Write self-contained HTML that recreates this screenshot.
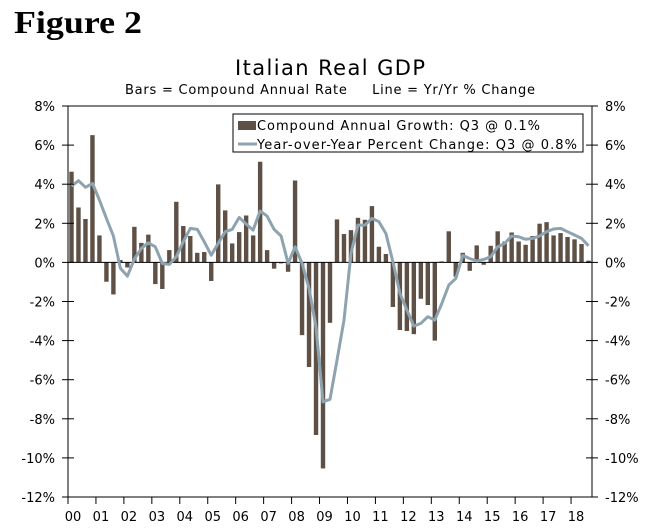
<!DOCTYPE html>
<html><head><meta charset="utf-8"><style>
html,body{margin:0;padding:0;background:#fff;width:653px;height:531px;overflow:hidden}
svg{display:block;font-family:"DejaVu Sans","Liberation Sans",sans-serif}
</style></head><body>
<svg id="chart" width="653" height="531" viewBox="0 0 653 531">
<text x="14" y="33" font-family="Liberation Serif,serif" font-weight="bold" font-size="32" textLength="128" lengthAdjust="spacingAndGlyphs" fill="#000">Figure 2</text>
<text x="330" y="75" text-anchor="middle" font-size="21" textLength="190" fill="#000">Italian Real GDP</text>
<text x="330" y="94" text-anchor="middle" font-size="13" textLength="410" xml:space="preserve" fill="#000">Bars = Compound Annual Rate     Line = Yr/Yr % Change</text>
<g id="plot"></g>
</svg>
<script>
const years=["00","01","02","03","04","05","06","07","08","09","10","11","12","13","14","15","16","17","18"];
const yTicks=[8,6,4,2,0,-2,-4,-6,-8,-10,-12];
const barValues=[4.64,2.81,2.22,6.51,1.38,-0.99,-1.64,0.12,-0.26,1.82,1.0,1.42,-1.11,-1.36,0.63,3.1,1.86,1.35,0.49,0.53,-0.95,3.99,2.66,0.97,1.55,2.4,1.38,5.15,0.63,-0.32,-0.05,-0.48,4.19,-3.72,-5.35,-8.83,-10.54,-3.09,2.2,1.45,1.65,2.28,2.18,2.88,0.8,0.43,-2.28,-3.46,-3.51,-3.67,-1.86,-2.18,-4.0,0.05,1.59,-0.73,0.49,-0.43,0.87,-0.12,0.85,1.59,1.07,1.53,1.07,0.9,1.35,1.98,2.06,1.38,1.5,1.3,1.18,0.94,0.09];
const lineValues=[3.9,4.18,3.84,4.04,3.19,2.25,1.35,-0.3,-0.7,0.17,0.72,1.0,0.8,-0.05,-0.1,0.29,1.06,1.74,1.69,1.06,0.37,0.97,1.57,1.69,2.3,1.96,1.65,2.63,2.37,1.69,1.35,-0.05,0.8,-0.05,-1.33,-3.29,-7.13,-7.0,-5.0,-2.95,0.46,1.91,1.91,2.25,2.08,1.48,0.03,-1.58,-2.44,-3.26,-3.12,-2.78,-2.95,-2.1,-1.16,-0.82,0.36,0.2,0.07,0.15,0.29,0.8,0.97,1.35,1.31,1.18,1.23,1.35,1.57,1.71,1.74,1.57,1.4,1.23,0.85];
const NS="http://www.w3.org/2000/svg";
const L=68,R=592,T=106,B=497,YMAX=8,YMIN=-12,N=75;
const slot=(R-L)/N;
function xs(i){return L+(i+0.5)*slot;}
function ys(v){return T+(YMAX-v)/(YMAX-YMIN)*(B-T);}
const g=document.getElementById('plot');
function mk(tag,attrs,parent){const e=document.createElementNS(NS,tag);for(const k in attrs)e.setAttribute(k,attrs[k]);(parent||g).appendChild(e);return e;}
barValues.forEach((v,i)=>{
 const y0=ys(0),y1=ys(v);
 const r=mk('rect',{x:xs(i)-2.2,y:Math.min(y0,y1),width:4.4,height:Math.max(0.8,Math.abs(y1-y0)),fill:'#5e5045'});
 
 
});
const z=mk('line',{x1:L,x2:R,y1:ys(0),y2:ys(0),stroke:'#000','stroke-width':1});


const pts=lineValues.map((v,i)=>xs(i).toFixed(1)+','+ys(v).toFixed(1)).join(' ');
const pl=mk('polyline',{points:pts,fill:'none',stroke:'#8ea3b0','stroke-width':3,'stroke-linejoin':'round'});


const fr=mk('path',{d:`M${L},${B}V${T}H${R}V${B}H${L}`,fill:'none',stroke:'#000','stroke-width':1});


yTicks.forEach(v=>{
 const y=ys(v);
 mk('line',{x1:L-6,x2:L+6,y1:y,y2:y,stroke:'#000'});
 mk('line',{x1:R-6,x2:R+6,y1:y,y2:y,stroke:'#000'});
 const t1=mk('text',{x:L-13,y:y+5,'text-anchor':'end','font-size':13,fill:'#000'});
 t1.textContent=v+'%';
 
 
 const t2=mk('text',{x:R+13,y:y+5,'text-anchor':'start','font-size':13,fill:'#000'});
 t2.textContent=v+'%';
 
 
});
years.forEach((yr,k)=>{
 const x=L+k*4*slot;
 mk('line',{x1:x,x2:x,y1:B,y2:B+7,stroke:'#000'});
 const t=mk('text',{x:x+5,y:B+24,'text-anchor':'middle','font-size':13,fill:'#000'});
 t.textContent=yr;
 
 
});
const lg=mk('g',{});


mk('rect',{x:233,y:114,width:350,height:38,fill:'#fff',stroke:'#000'},lg);
mk('rect',{x:238,y:121,width:18,height:9,fill:'#5e5045'},lg);
const lt1=mk('text',{x:257,y:130,'font-size':13,fill:'#000',textLength:283},lg);
lt1.textContent='Compound Annual Growth: Q3 @ 0.1%';


mk('line',{x1:238,x2:257,y1:144,y2:144,stroke:'#8ea3b0','stroke-width':3},lg);
const lt2=mk('text',{x:257,y:149,'font-size':13,fill:'#000',textLength:320},lg);
lt2.textContent='Year-over-Year Percent Change: Q3 @ 0.8%';


</script>
</body></html>
